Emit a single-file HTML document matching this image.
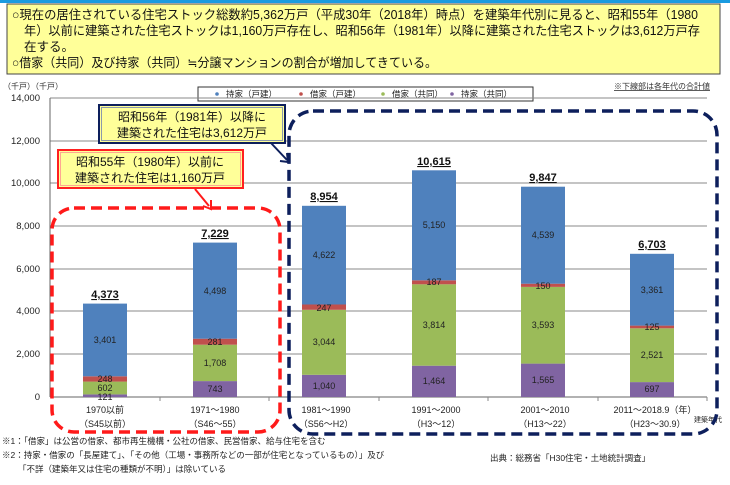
<!DOCTYPE html>
<html><head><meta charset="utf-8"><style>
body{margin:0;background:#fff;}
svg text{font-family:"Liberation Sans","Noto Sans CJK JP",sans-serif;}
</style></head><body>
<svg width="730" height="480" viewBox="0 0 730 480" xmlns="http://www.w3.org/2000/svg">
<rect x="0" y="0" width="730" height="3" fill="#1a9be0"/>
<rect x="7" y="4" width="713" height="70" fill="#ffff99" stroke="#444" stroke-width="1"/>
<g font-size="12.5" fill="#111">
<text x="12" y="19" textLength="686" lengthAdjust="spacingAndGlyphs">○現在の居住されている住宅ストック総数約5,362万戸（平成30年（2018年）時点）を建築年代別に見ると、昭和55年（1980</text>
<text x="24" y="35" textLength="676" lengthAdjust="spacingAndGlyphs">年）以前に建築された住宅ストックは1,160万戸存在し、昭和56年（1981年）以降に建築された住宅ストックは3,612万戸存</text>
<text x="24" y="51">在する。</text>
<text x="12" y="67" textLength="425" lengthAdjust="spacingAndGlyphs">○借家（共同）及び持家（共同）≒分譲マンションの割合が増加してきている。</text>
</g>
<text x="3" y="89" font-size="8" fill="#333">（千戸）（千戸）</text>
<text x="710" y="89" font-size="8" fill="#333" text-anchor="end" text-decoration="underline">※下線部は各年代の合計値</text>
<rect x="198" y="87" width="335" height="14" fill="#fff" stroke="#333" stroke-width="1"/>
<g font-size="8.5" fill="#222">
<circle cx="217" cy="94" r="1.8" fill="#4f81bd"/><text x="226" y="97">持家（戸建）</text>
<circle cx="301" cy="94" r="1.8" fill="#c0504d"/><text x="310" y="97">借家（戸建）</text>
<circle cx="383" cy="94" r="1.8" fill="#9bbb59"/><text x="392" y="97">借家（共同）</text>
<circle cx="452" cy="94" r="1.8" fill="#8064a2"/><text x="461" y="97">持家（共同）</text>
</g>
<g stroke="#888" stroke-width="1">
<line x1="50" y1="98" x2="707" y2="98"/><line x1="50" y1="141" x2="707" y2="141"/>
<line x1="50" y1="183" x2="707" y2="183"/><line x1="50" y1="226" x2="707" y2="226"/>
<line x1="50" y1="269" x2="707" y2="269"/><line x1="50" y1="311" x2="707" y2="311"/>
<line x1="50" y1="354" x2="707" y2="354"/>
<line x1="50" y1="98" x2="50" y2="397" stroke="#666"/>
<line x1="50" y1="397" x2="707" y2="397" stroke="#666"/>
<line x1="160" y1="397" x2="160" y2="401"/><line x1="269" y1="397" x2="269" y2="401"/>
<line x1="379" y1="397" x2="379" y2="401"/><line x1="488" y1="397" x2="488" y2="401"/>
<line x1="598" y1="397" x2="598" y2="401"/><line x1="707" y1="397" x2="707" y2="401"/>
</g>
<g font-size="9.5" fill="#222" text-anchor="end">
<text x="40" y="101">14,000</text><text x="40" y="144">12,000</text><text x="40" y="186">10,000</text>
<text x="40" y="229">8,000</text><text x="40" y="272">6,000</text><text x="40" y="314">4,000</text>
<text x="40" y="357">2,000</text><text x="40" y="400">0</text>
</g>
<g stroke="none">
<rect x="83" y="394.4" width="44" height="2.6" fill="#8064a2"/>
<rect x="83" y="381.6" width="44" height="12.8" fill="#9bbb59"/>
<rect x="83" y="376.3" width="44" height="5.3" fill="#c0504d"/>
<rect x="83" y="303.6" width="44" height="72.7" fill="#4f81bd"/>
<rect x="193" y="381.1" width="44" height="15.9" fill="#8064a2"/>
<rect x="193" y="344.7" width="44" height="36.4" fill="#9bbb59"/>
<rect x="193" y="338.7" width="44" height="6.0" fill="#c0504d"/>
<rect x="193" y="242.6" width="44" height="96.1" fill="#4f81bd"/>
<rect x="302" y="374.8" width="44" height="22.2" fill="#8064a2"/>
<rect x="302" y="309.8" width="44" height="65.0" fill="#9bbb59"/>
<rect x="302" y="304.5" width="44" height="5.3" fill="#c0504d"/>
<rect x="302" y="205.8" width="44" height="98.7" fill="#4f81bd"/>
<rect x="412" y="365.7" width="44" height="31.3" fill="#8064a2"/>
<rect x="412" y="284.3" width="44" height="81.4" fill="#9bbb59"/>
<rect x="412" y="280.3" width="44" height="4.0" fill="#c0504d"/>
<rect x="412" y="170.3" width="44" height="110.0" fill="#4f81bd"/>
<rect x="521" y="363.6" width="44" height="33.4" fill="#8064a2"/>
<rect x="521" y="286.9" width="44" height="76.7" fill="#9bbb59"/>
<rect x="521" y="283.7" width="44" height="3.2" fill="#c0504d"/>
<rect x="521" y="186.7" width="44" height="97.0" fill="#4f81bd"/>
<rect x="630" y="382.1" width="44" height="14.9" fill="#8064a2"/>
<rect x="630" y="328.3" width="44" height="53.8" fill="#9bbb59"/>
<rect x="630" y="325.6" width="44" height="2.7" fill="#c0504d"/>
<rect x="630" y="253.8" width="44" height="71.8" fill="#4f81bd"/>
</g>
<g font-size="9" fill="#222" text-anchor="middle">
<text x="105" y="343">3,401</text><text x="105" y="382">248</text><text x="105" y="391">602</text><text x="105" y="400">121</text>
<text x="215" y="294">4,498</text><text x="215" y="345">281</text><text x="215" y="366">1,708</text><text x="215" y="392">743</text>
<text x="324" y="258">4,622</text><text x="324" y="311">247</text><text x="324" y="345">3,044</text><text x="324" y="389">1,040</text>
<text x="434" y="228">5,150</text><text x="434" y="285">187</text><text x="434" y="328">3,814</text><text x="434" y="384">1,464</text>
<text x="543" y="238">4,539</text><text x="543" y="289">150</text><text x="543" y="328">3,593</text><text x="543" y="383">1,565</text>
<text x="652" y="293">3,361</text><text x="652" y="330">125</text><text x="652" y="358">2,521</text><text x="652" y="392">697</text>
</g>
<g font-size="11" font-weight="bold" fill="#111" text-anchor="middle" text-decoration="underline">
<text x="105" y="298">4,373</text><text x="215" y="237">7,229</text><text x="324" y="200">8,954</text>
<text x="434" y="165">10,615</text><text x="543" y="181">9,847</text><text x="652" y="248">6,703</text>
</g>
<g font-size="9" fill="#222" text-anchor="middle">
<text x="105" y="413">1970以前</text><text x="105" y="427">（S45以前）</text>
<text x="215" y="413">1971～1980</text><text x="215" y="427">（S46～55）</text>
<text x="326" y="413">1981～1990</text><text x="326" y="427">（S56～H2）</text>
<text x="436" y="413">1991～2000</text><text x="436" y="427">（H3～12）</text>
<text x="545" y="413">2001～2010</text><text x="545" y="427">（H13～22）</text>
<text x="655" y="413">2011～2018.9（年）</text><text x="655" y="427">（H23～30.9）</text>
<text x="708" y="422" font-size="7">建築年代</text>
</g>
<rect x="52" y="208" width="228" height="224" rx="22" fill="none" stroke="#ff1a1a" stroke-width="3.5" stroke-dasharray="11,6"/>
<rect x="289" y="111" width="428" height="323" rx="24" fill="none" stroke="#0d1f5c" stroke-width="3.5" stroke-dasharray="11,6"/>
<rect x="58" y="150" width="185" height="38" fill="#ffff99" stroke="#ff2020" stroke-width="2"/>
<rect x="60.5" y="152.5" width="180" height="33" fill="none" stroke="#ff9090" stroke-width="0.8"/>
<g font-size="12" fill="#111" text-anchor="middle"><text x="150" y="166">昭和55年（1980年）以前に</text><text x="150" y="182">建築された住宅は1,160万戸</text></g>
<line x1="195" y1="189" x2="209" y2="206" stroke="#ff1a1a" stroke-width="2"/>
<path d="M203 206 L211 209 L211 200" fill="none" stroke="#ff1a1a" stroke-width="2"/>
<rect x="99" y="105" width="186" height="38" fill="#ffff99" stroke="#0d1f5c" stroke-width="2"/>
<rect x="101.5" y="107.5" width="181" height="33" fill="none" stroke="#7080b0" stroke-width="0.8"/>
<g font-size="12" fill="#111" text-anchor="middle"><text x="192" y="121">昭和56年（1981年）以降に</text><text x="192" y="137">建築された住宅は3,612万戸</text></g>
<line x1="271" y1="143" x2="287" y2="160" stroke="#0d1f5c" stroke-width="2"/>
<path d="M280 161 L288 162 L287 153" fill="none" stroke="#0d1f5c" stroke-width="2"/>
<g font-size="8.5" fill="#222">
<text x="2" y="444">※1：「借家」は公営の借家、都市再生機構・公社の借家、民営借家、給与住宅を含む</text>
<text x="2" y="458">※2：持家・借家の「長屋建て」、「その他（工場・事務所などの一部が住宅となっているもの）」及び</text>
<text x="18" y="472">「不詳（建築年又は住宅の種類が不明）」は除いている</text>
<text x="490" y="461">出典：総務省「H30住宅・土地統計調査」</text>
</g>
</svg>
</body></html>
